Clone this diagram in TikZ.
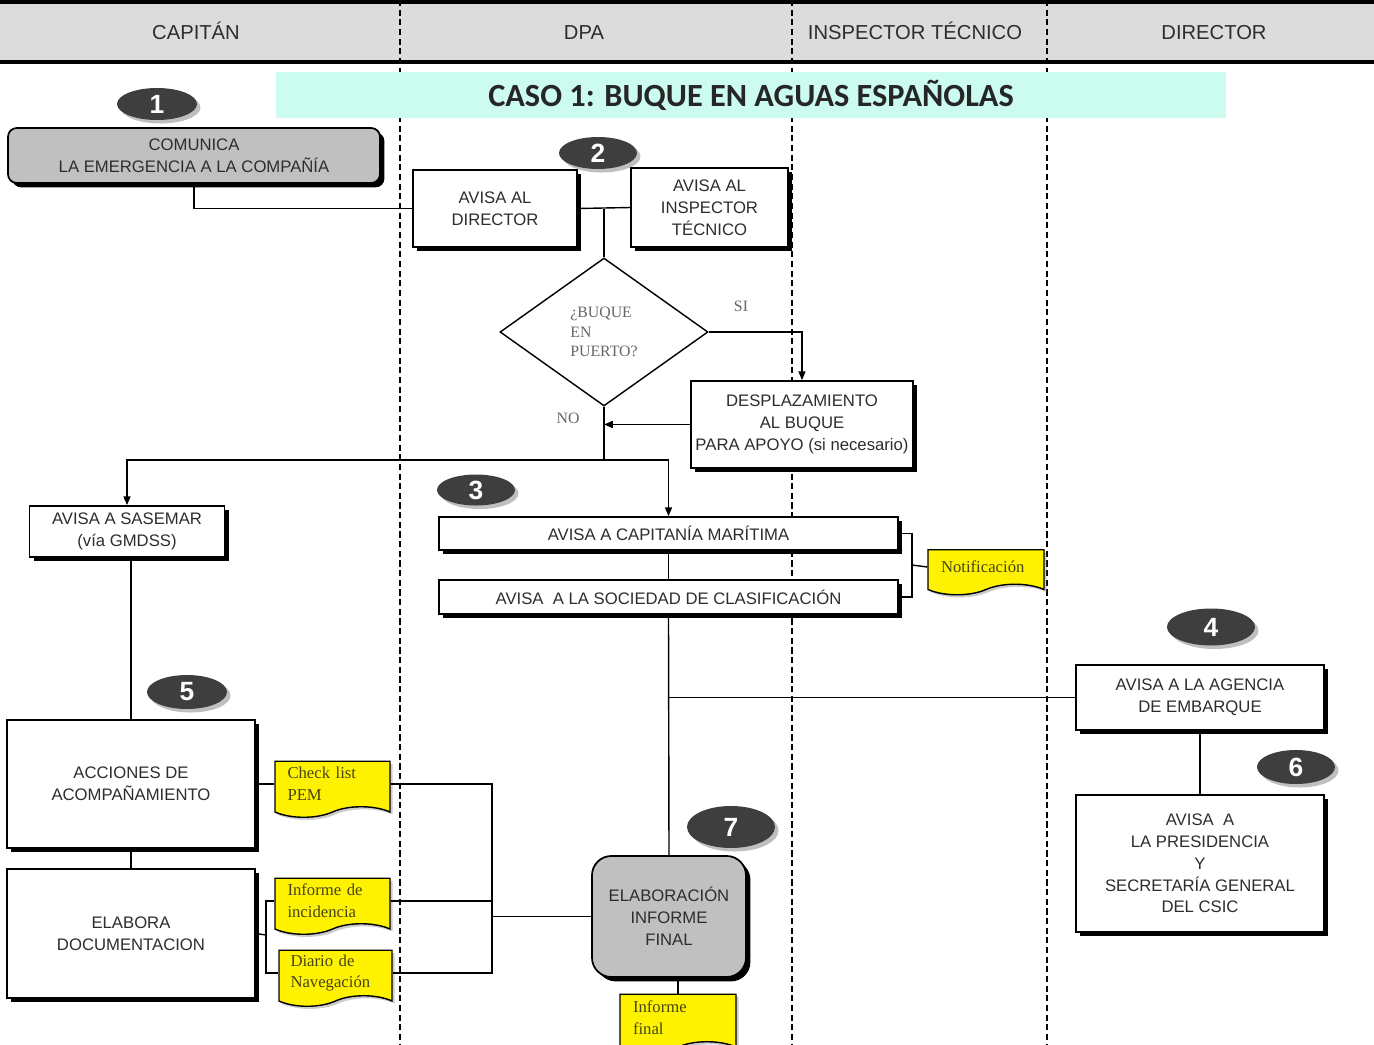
\documentclass[tikz,border=0pt]{standalone}
\usepackage{fontspec}
\setmainfont{Liberation Sans}
\newfontfamily\notefont{Liberation Serif}
\newfontfamily\titlefont{Carlito}
\usetikzlibrary{arrows.meta,positioning,calc}
\usetikzlibrary{shapes.geometric, shapes.symbols}
\usetikzlibrary{shadows}

\definecolor{headgray}{RGB}{220,220,220}
\definecolor{titlecyan}{RGB}{204,251,240}
\definecolor{boxgray}{RGB}{192,192,192}
\definecolor{badgegray}{RGB}{62,62,62}
\definecolor{txtgray}{RGB}{45,45,45}
\definecolor{notetxt}{RGB}{70,70,20}

\begin{document}
\begin{tikzpicture}[x=0.02cm, y=-0.02cm,
    head/.style={anchor=base, text=txtgray, font=\fontsize{11.5}{14}\selectfont},
    box/.style={draw, line width=1pt, fill=white, align=center, text=txtgray, inner sep=1pt,
        font=\fontsize{9.5}{12.4}\selectfont,
        drop shadow={shadow xshift=2.5pt, shadow yshift=-2.5pt, fill=black, opacity=1}},
    graybox/.style={box, fill=boxgray},
    badge/.style={ellipse, fill=badgegray, text=white, inner sep=0pt,
        font=\fontsize{15}{15}\bfseries\selectfont,
        drop shadow={shadow xshift=2pt, shadow yshift=-2pt, fill=gray, opacity=.5}},
    note/.style={tape, tape bend top=none, tape bend height=6pt, draw, line width=0.8pt, fill=yellow,
        align=left, text width=1.8cm, text=notetxt, inner sep=2pt,
        font=\notefont\fontsize{9.5}{12.4}\selectfont,
        drop shadow={shadow xshift=1.5pt, shadow yshift=-1.5pt, fill=gray, opacity=.4}},
    lbl/.style={text=gray!80!black, font=\notefont\fontsize{9}{11}\selectfont},
    lane/.style={dash pattern=on 3.5pt off 2pt, line width=0.9pt},
    link/.style={line width=0.8pt},
    arr/.style={link, -{Triangle[length=5pt,width=4pt]}}]
    \def\pxu{0.02cm}
    \useasboundingbox (0,0) rectangle (1374,1045);

    \fill[headgray] (0,2) rectangle (1374,62);
    \foreach \x in {400,792,1047}
        \draw[lane] (\x,0) -- (\x,1045);
    \draw[line width=2pt] (0,2) -- (1374,2);
    \draw[line width=2pt] (0,62) -- (1374,62);

    \node(hcap) [head] at (196,39) {CAPITÁN};
    \node(hdpa) [head] at (584,39) {DPA};
    \node(hins) [head] at (915,39) {INSPECTOR TÉCNICO};
    \node(hdir) [head] at (1214,39) {DIRECTOR};

    \node(title) [fill=titlecyan, minimum width=950*\pxu, minimum height=46*\pxu, text=black!85,
        font=\titlefont\fontsize{18.4}{19}\bfseries\selectfont] at (751,95) {CASO 1: BUQUE EN AGUAS ESPAÑOLAS};

    \node(com) [graybox, rounded corners=5pt, minimum width=372*\pxu, minimum height=55*\pxu] at (194,155.5) {COMUNICA\\LA EMERGENCIA A LA COMPAÑÍA};
    \node(dir) [box, minimum width=164*\pxu, minimum height=77*\pxu] at (495,208.5) {AVISA AL\\DIRECTOR};
    \node(insp) [box, minimum width=157*\pxu, minimum height=79*\pxu] at (709.5,207.5) {AVISA AL\\INSPECTOR\\TÉCNICO};
    \node(q) [diamond, draw, link, fill=white, aspect=1.4, minimum width=208*\pxu, minimum height=148*\pxu,
        inner sep=0pt, align=left, lbl] at (604,332) {¿BUQUE\\EN\\PUERTO?};
    \node(desp) [box, minimum width=222*\pxu, minimum height=87*\pxu] at (802,424.5) {DESPLAZAMIENTO\\AL BUQUE\\PARA APOYO (si necesario)};
    \node(si) [lbl] at (741,306) {SI};
    \node(no) [lbl] at (568,418) {NO};
    \coordinate(split) at (604,460);

    \node(sas) [box, minimum width=195*\pxu, minimum height=51*\pxu] at (127,531.5) {AVISA A SASEMAR\\(vía GMDSS)};
    \node(capm) [box, minimum width=459*\pxu, minimum height=33*\pxu] at (668.5,533.5) {AVISA A CAPITANÍA MARÍTIMA};
    \node(soc) [box, minimum width=459*\pxu, minimum height=34*\pxu] at (668.5,597) {AVISA\ \ A LA SOCIEDAD DE CLASIFICACIÓN};
    \node(notif) [note, minimum width=116*\pxu, minimum height=45*\pxu] at (986,567) {Notificación};
    \coordinate(nb) at (912,565);

    \node(agen) [box, minimum width=248*\pxu, minimum height=65*\pxu] at (1200,697.5) {AVISA A LA AGENCIA\\DE EMBARQUE};
    \node(pres) [box, minimum width=248*\pxu, minimum height=137*\pxu] at (1200,863.5) {AVISA\ \ A\\LA PRESIDENCIA\\Y\\SECRETARÍA GENERAL\\DEL CSIC};

    \node(acc) [box, minimum width=248*\pxu, minimum height=128*\pxu] at (131,784) {ACCIONES DE\\ACOMPAÑAMIENTO};
    \node(doc) [box, minimum width=248*\pxu, minimum height=129*\pxu] at (131,933.5) {ELABORA\\DOCUMENTACION};
    \node(chk) [note, minimum width=115*\pxu, minimum height=56*\pxu] at (332.5,784) {Check list\\PEM};
    \node(inc) [note, minimum width=115*\pxu, minimum height=56*\pxu] at (332.5,901) {Informe de\\incidencia};
    \node(dia) [note, minimum width=113*\pxu, minimum height=56*\pxu] at (335.5,973) {Diario de\\Navegación};
    \coordinate(db) at (266,935);
    \coordinate(jn) at (492,916.5);

    \node(fin) [graybox, rounded corners=11pt, minimum width=154*\pxu, minimum height=121*\pxu] at (669,916.5) {ELABORACIÓN\\INFORME\\FINAL};
    \node(inf) [note, minimum width=116*\pxu, minimum height=58*\pxu] at (678,1018) {Informe\\final};

    \node(b1) [badge, minimum width=80*\pxu, minimum height=32*\pxu] at (157,104) {1};
    \node(b2) [badge, minimum width=78*\pxu, minimum height=32*\pxu] at (598,153) {2};
    \node(b3) [badge, minimum width=78*\pxu, minimum height=31*\pxu] at (476,490) {3};
    \node(b4) [badge, minimum width=88*\pxu, minimum height=37*\pxu] at (1211,627) {4};
    \node(b5) [badge, minimum width=80*\pxu, minimum height=34*\pxu] at (187,692) {5};
    \node(b6) [badge, minimum width=78*\pxu, minimum height=34*\pxu] at (1296,767) {6};
    \node(b7) [badge, minimum width=88*\pxu, minimum height=42*\pxu] at (731,827) {7};

    \draw[link] (com.south) |- (dir.west);
    \draw[link] (dir.east) -- (insp.west);
    \draw[link] (q.north) -- (q.north |- dir.east);
    \draw[arr] (q.east) -| (desp.north);
    \draw[arr] (desp.west) -- (desp.west -| q.south);
    \draw[line width=1.5pt] (q.south) -- (split);
    \draw[arr] (split) -| (sas.north);
    \draw[arr] (split) -| (capm.north);
    \draw[link] (capm.south) -- (soc.north);
    \draw[link] (capm.east) -| (nb) |- (soc.east);
    \draw[link] (nb) -- (notif.west);
    \draw[link] (soc.south) -- (fin.north);
    \draw[link] (soc.south |- agen.west) -- (agen.west);
    \draw[link] (agen.south) -- (pres.north);
    \draw[link] (acc.north |- sas.south) -- (acc.north);
    \draw[link] (acc.south) -- (doc.north);
    \draw[link] (acc.east) -- (chk.west);
    \draw[link] (doc.east) -- (db);
    \draw[link] (inc.west) -| (db) |- (dia.west);
    \draw[link] (chk.east) -| (jn);
    \draw[link] (dia.east) -| (jn);
    \draw[link] (inc.east) -- (inc.east -| jn);
    \draw[link] (jn) -- (fin.west);
    \draw[link] (inf.north) -- (inf.north |- fin.south);
\end{tikzpicture}
\end{document}
